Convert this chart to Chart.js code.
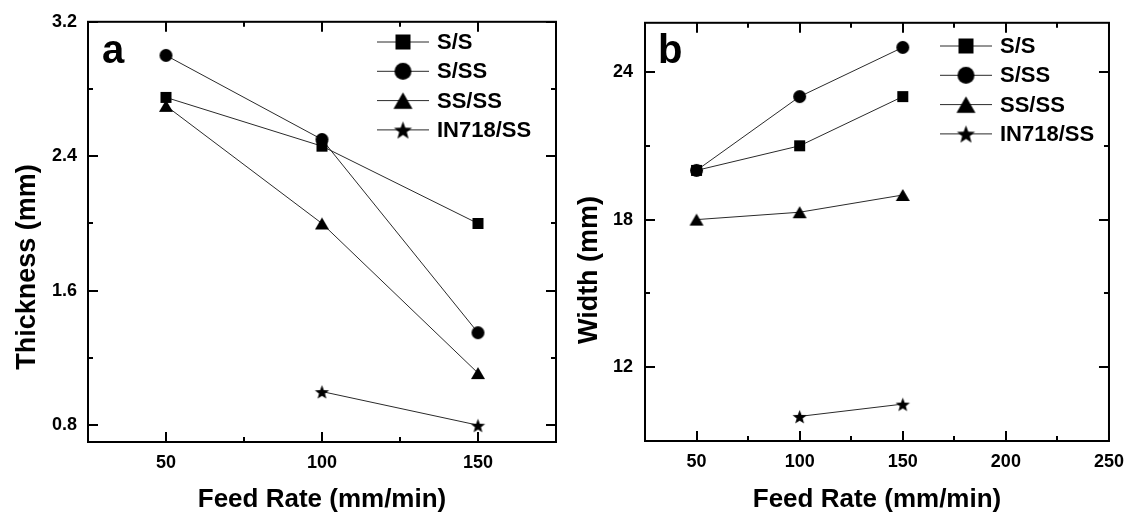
<!DOCTYPE html>
<html>
<head>
<meta charset="utf-8">
<title>Feed rate vs thickness and width</title>
<script src="https://cdn.jsdelivr.net/npm/chart.js@4.4.1/dist/chart.umd.min.js"></script>
<style>
    html, body { margin: 0; padding: 0; background: #fff; }
    #wrap { position: relative; width: 1134px; height: 517px; }
    #wrap canvas { position: absolute; top: 0; }
    #chartA { left: 0; }
    #chartB { left: 567px; }
</style>
</head>
<body>
<div id="wrap">
    <canvas id="chartA" width="567" height="517"></canvas>
    <canvas id="chartB" width="567" height="517"></canvas>
</div>
<script>
// feed rate (mm/min) and series names
const feedRates = [50, 100, 150];
const seriesNames = ['S/S', 'S/SS', 'SS/SS', 'IN718/SS'];

// panel a: thickness (mm)
const thickSS = [2.75, 2.46, 2.0];
const thickSSS = [3.0, 2.5, 1.35];
const thickSSSS = [2.7, 2.0, 1.11];
const thickIN = [null, 1.0, 0.8];

// panel b: width (mm)
const widthSS = [20.0, 21.0, 23.0];
const widthSSS = [20.0, 23.0, 25.0];
const widthSSSS = [18.0, 18.3, 19.0];
const widthIN = [null, 10.0, 10.5];

// tick labels
const thickXTicks = [50, 100, 150];
const thickXMinor = [75, 125];
const thickYTicks = [0.8, 1.6, 2.4, 3.2];
const thickYMinor = [1.2, 2.0, 2.8];
const widthXTicks = [50, 100, 150, 200, 250];
const widthXMinor = [75, 125, 175, 225];
const widthYTicks = [12, 18, 24];
const widthYMinor = [15, 21];

const FONT = "'Liberation Sans', Arial, Helvetica, sans-serif";
const shapes = ['square', 'circle', 'triangle', 'star'];
const markerSize = { square: 11, circle: 13, triangle: 14, star: 15 };
const legendSize = { square: 15, circle: 17, triangle: 19, star: 19 };

function makeMarker(shape, size) {
    const c = document.createElement('canvas');
    const dim = size + 2;
    c.width = dim;
    c.height = dim;
    const g = c.getContext('2d');
    const m = dim / 2;
    g.fillStyle = '#000';
    g.beginPath();
    if (shape === 'square') {
        g.rect(1, 1, size, size);
    } else if (shape === 'circle') {
        g.arc(m, m, size / 2, 0, Math.PI * 2);
    } else if (shape === 'triangle') {
        const h = size * 0.87;
        g.moveTo(m, m - h / 2);
        g.lineTo(m + size / 2, m + h / 2);
        g.lineTo(m - size / 2, m + h / 2);
    } else {
        const R = size / 2, r = R * 0.42;
        for (let k = 0; k < 10; k++) {
            const rad = k % 2 ? r : R;
            const a = -Math.PI / 2 + k * Math.PI / 5;
            const px = m + rad * Math.cos(a), py = m + 1 + rad * Math.sin(a);
            k ? g.lineTo(px, py) : g.moveTo(px, py);
        }
    }
    g.closePath();
    g.fill();
    return c;
}

const dataMarkers = {};
const bigMarkers = {};
shapes.forEach(s => {
    dataMarkers[s] = makeMarker(s, markerSize[s]);
    bigMarkers[s] = makeMarker(s, legendSize[s]);
});

function buildDatasets(seriesList) {
    return seriesList.map((vals, i) => ({
        label: seriesNames[i],
        data: feedRates.map((x, j) => ({ x: x, y: vals[j] })),
        borderColor: '#2a2a2a',
        borderWidth: 1,
        pointStyle: dataMarkers[shapes[i]],
        pointRadius: 6,
        pointHoverRadius: 6,
        spanGaps: false,
        fill: false,
        tension: 0
    }));
}

// box, inward ticks, panel letter, axis titles and legend
const framePlugin = {
    id: 'frame',
    afterDraw(chart) {
        const p = chart.options.plugins.frame;
        const ctx = chart.ctx;
        const ca = chart.chartArea;
        const xs = chart.scales.x, ys = chart.scales.y;
        ctx.save();
        ctx.strokeStyle = '#000';
        ctx.lineWidth = 2;
        ctx.strokeRect(ca.left, ca.top, ca.right - ca.left, ca.bottom - ca.top);

        function xTick(v, len) {
            const px = Math.round(xs.getPixelForValue(v));
            ctx.beginPath();
            ctx.moveTo(px, ca.bottom); ctx.lineTo(px, ca.bottom - len);
            ctx.moveTo(px, ca.top); ctx.lineTo(px, ca.top + len);
            ctx.stroke();
        }
        function yTick(v, len) {
            const py = Math.round(ys.getPixelForValue(v));
            ctx.beginPath();
            ctx.moveTo(ca.left, py); ctx.lineTo(ca.left + len, py);
            ctx.moveTo(ca.right, py); ctx.lineTo(ca.right - len, py);
            ctx.stroke();
        }
        p.xTicks.forEach(v => xTick(v, 10));
        p.xMinor.forEach(v => xTick(v, 5));
        p.yTicks.forEach(v => yTick(v, 10));
        p.yMinor.forEach(v => yTick(v, 5));

        ctx.fillStyle = '#000';
        ctx.font = 'bold 40px ' + FONT;
        ctx.textAlign = 'left';
        ctx.textBaseline = 'alphabetic';
        ctx.fillText(p.letter, p.letterX, 63);

        ctx.font = 'bold 26px ' + FONT;
        ctx.textAlign = 'center';
        ctx.fillText(p.xTitle, (ca.left + ca.right) / 2, 507);

        ctx.save();
        ctx.font = 'bold 27px ' + FONT;
        ctx.translate(p.yTitleX, p.yTitleY);
        ctx.rotate(-Math.PI / 2);
        ctx.fillText(p.yTitle, 0, 0);
        ctx.restore();

        // legend
        ctx.font = 'bold 22px ' + FONT;
        ctx.textAlign = 'left';
        ctx.textBaseline = 'middle';
        chart.data.datasets.forEach((ds, i) => {
            const y = p.legendTop + i * 29.3;
            ctx.strokeStyle = '#2a2a2a';
            ctx.lineWidth = 1;
            ctx.beginPath();
            ctx.moveTo(p.legendX, y); ctx.lineTo(p.legendX + 52, y);
            ctx.stroke();
            const mk = bigMarkers[shapes[i]];
            ctx.drawImage(mk, p.legendX + 26 - mk.width / 2, y - mk.height / 2);
            ctx.fillText(ds.label, p.legendX + 60, y + 1);
        });
        ctx.restore();
    }
};

function makePanel(cfg) {
    const tickFont = { family: FONT, size: 18, weight: 'bold' };
    new Chart(document.getElementById(cfg.id), {
        type: 'line',
        data: { datasets: buildDatasets(cfg.series) },
        plugins: [framePlugin],
        options: {
            responsive: false,
            animation: false,
            devicePixelRatio: 1,
            layout: { padding: { top: cfg.top, right: cfg.right, left: 0, bottom: 0 } },
            plugins: {
                legend: { display: false },
                tooltip: { enabled: false },
                frame: cfg.frame
            },
            scales: {
                x: {
                    type: 'linear',
                    min: cfg.xMin,
                    max: cfg.xMax,
                    grid: { display: false, drawTicks: false },
                    border: { display: false },
                    ticks: { font: tickFont, color: '#000', padding: 10, maxRotation: 0, autoSkip: false },
                    afterBuildTicks: s => { s.ticks = cfg.frame.xTicks.map(v => ({ value: v })); },
                    afterFit: s => { s.height = cfg.xAxisH; }
                },
                y: {
                    type: 'linear',
                    min: cfg.yMin,
                    max: cfg.yMax,
                    grid: { display: false, drawTicks: false },
                    border: { display: false },
                    ticks: {
                        font: tickFont, color: '#000', padding: cfg.yPad, autoSkip: false,
                        callback: v => cfg.fmt(v)
                    },
                    afterBuildTicks: s => { s.ticks = cfg.frame.yTicks.map(v => ({ value: v })); },
                    afterFit: s => { s.width = cfg.yAxisW; }
                }
            }
        }
    });
}

makePanel({
    id: 'chartA',
    series: [thickSS, thickSSS, thickSSSS, thickIN],
    xMin: 25, xMax: 175, yMin: 0.7, yMax: 3.2,
    top: 20, right: 11, xAxisH: 75, yAxisW: 88, yPad: 11,
    fmt: v => v.toFixed(1),
    frame: {
        xTicks: thickXTicks, xMinor: thickXMinor, yTicks: thickYTicks, yMinor: thickYMinor,
        letter: 'a', letterX: 102,
        xTitle: 'Feed Rate (mm/min)', yTitle: 'Thickness (mm)', yTitleX: 35, yTitleY: 267,
        legendX: 377, legendTop: 42
    }
});

makePanel({
    id: 'chartB',
    series: [widthSS, widthSSS, widthSSSS, widthIN],
    xMin: 25, xMax: 250, yMin: 9, yMax: 26,
    top: 21, right: 22, xAxisH: 76, yAxisW: 78, yPad: 12,
    fmt: v => String(v),
    frame: {
        xTicks: widthXTicks, xMinor: widthXMinor, yTicks: widthYTicks, yMinor: widthYMinor,
        letter: 'b', letterX: 91,
        xTitle: 'Feed Rate (mm/min)', yTitle: 'Width (mm)', yTitleX: 30, yTitleY: 270,
        legendX: 373, legendTop: 46
    }
});
</script>
</body>
</html>
